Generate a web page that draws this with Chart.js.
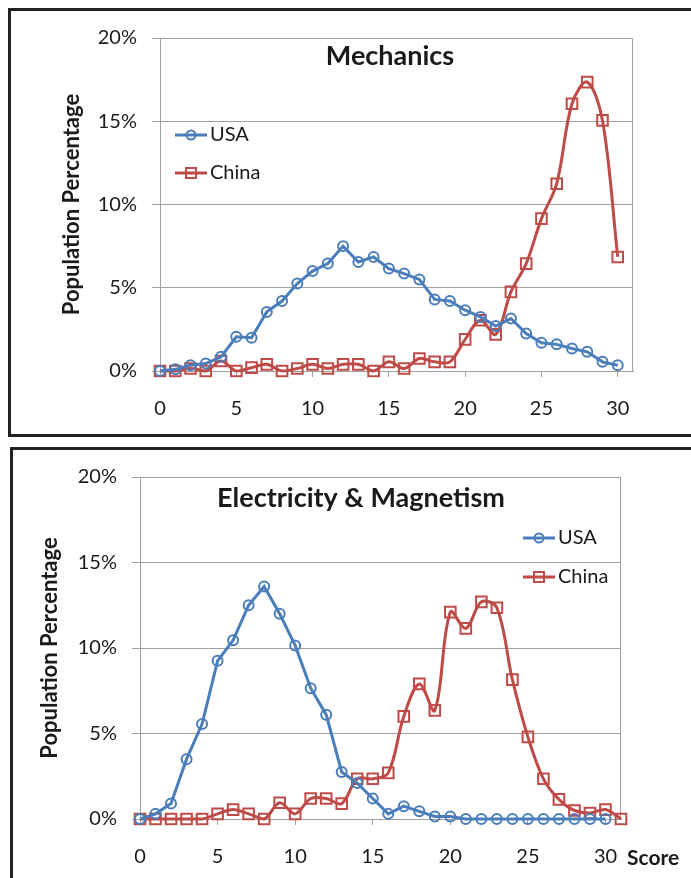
<!DOCTYPE html>
<html>
<head>
<meta charset="utf-8">
<script src="https://cdn.jsdelivr.net/npm/chart.js@4.4.1/dist/chart.umd.min.js"></script>
<style>
  body { margin: 0; background: #fff; width: 691px; height: 878px; overflow: hidden; position: relative; }
  .panel { position: absolute; border: 3px solid #222; box-sizing: border-box; }
  #p1 { left: 8px; top: 8px; width: 720px; height: 429px; }
  #p2 { left: 10px; top: 447px; width: 720px; height: 460px; }
  canvas { position: absolute; }
  #mech { left: 11px; top: 11px; }
  #em { left: 13px; top: 450px; }
</style>
</head>
<body>
<div class="panel" id="p1"></div>
<div class="panel" id="p2"></div>
<canvas id="mech" width="680" height="423"></canvas>
<canvas id="em" width="678" height="428"></canvas>
<script>
// scores on the x axis
const mechScores = [0,1,2,3,4,5,6,7,8,9,10,11,12,13,14,15,16,17,18,19,20,21,22,23,24,25,26,27,28,29,30];
const emScores = [0,1,2,3,4,5,6,7,8,9,10,11,12,13,14,15,16,17,18,19,20,21,22,23,24,25,26,27,28,29,30,31];

// population percentage per score
const mechUSA = [0,0.1,0.35,0.45,0.85,2.05,2.0,3.55,4.2,5.25,6.0,6.45,7.5,6.55,6.85,6.15,5.85,5.5,4.3,4.2,3.65,3.25,2.7,3.15,2.25,1.7,1.6,1.35,1.15,0.55,0.35];
const mechChina = [0,0,0.15,0,0.6,0,0.2,0.4,0,0.15,0.4,0.15,0.4,0.4,0,0.55,0.15,0.75,0.55,0.55,1.9,3.05,2.2,4.75,6.45,9.15,11.25,16.05,17.35,15.05,6.85];
const emUSA = [0,0.3,0.9,3.5,5.55,9.25,10.45,12.5,13.6,12.0,10.15,7.65,6.1,2.75,2.1,1.2,0.3,0.75,0.45,0.15,0.15,0,0,0,0,0,0,0,0,0,0];
const emChina = [0,0,0,0,0,0.3,0.55,0.3,0,0.95,0.3,1.2,1.2,0.9,2.35,2.35,2.7,6.0,7.9,6.35,12.1,11.15,12.7,12.35,8.15,4.8,2.35,1.15,0.5,0.35,0.55,0];

const xTicks = [0,5,10,15,20,25,30];
const yTicks = [0,5,10,15,20];

const BLUE = "#4a7ebb";
const RED = "#be4b48";
const TEXT = "#1a1a1a";
const GRID = "#a0a0a0";

Chart.defaults.font.family = "Lato, 'Open Sans', sans-serif";
Chart.defaults.color = TEXT;

function drawMarker(ctx, style, x, y, color) {
  ctx.strokeStyle = color;
  ctx.lineWidth = 2;
  ctx.beginPath();
  if (style === "circle") ctx.arc(x, y, 4.5, 0, Math.PI * 2);
  else ctx.rect(x - 5, y - 5, 10, 10);
  ctx.stroke();
}

const decor = {
  id: "decor",
  beforeDatasetsDraw(chart, args, o) {
    const { ctx, chartArea: a } = chart;
    ctx.save();
    ctx.strokeStyle = GRID;
    ctx.lineWidth = 1;
    ctx.beginPath();
    ctx.moveTo(a.right - 0.5, a.top);
    ctx.lineTo(a.right - 0.5, a.bottom);
    ctx.stroke();
    ctx.restore();
  },
  afterDraw(chart, args, o) {
    const ctx = chart.ctx;
    ctx.save();
    ctx.fillStyle = TEXT;
    ctx.textBaseline = "middle";
    ctx.font = "bold 27px Lato, sans-serif";
    ctx.textAlign = "center";
    ctx.fillText(o.title, o.titleX, o.titleY);

    // legend
    ctx.font = "20px Lato, sans-serif";
    ctx.textAlign = "left";
    chart.data.datasets.forEach((ds, i) => {
      const y = o.legendY[i];
      ctx.strokeStyle = ds.borderColor;
      ctx.lineWidth = 3;
      ctx.beginPath();
      ctx.moveTo(o.legendX, y);
      ctx.lineTo(o.legendX + 32, y);
      ctx.stroke();
      drawMarker(ctx, ds.pointStyle, o.legendX + 16, y, ds.borderColor);
      ctx.fillStyle = TEXT;
      ctx.fillText(ds.label, o.legendX + 35, y);
    });

    if (o.xLabel) {
      ctx.font = "bold 21px Lato, sans-serif";
      ctx.fillText(o.xLabel, o.xLabelX, o.xLabelY);
    }
    ctx.restore();
  }
};

function series(label, xs, ys, color, style, tension) {
  return {
    label: label,
    data: ys.map((v, i) => ({ x: xs[i], y: v })),
    borderColor: color,
    backgroundColor: color,
    borderWidth: 3,
    pointStyle: style,
    pointRadius: style === "rect" ? 7.5 : 5,
    pointBorderWidth: 2,
    pointBackgroundColor: "rgba(255,255,255,0)",
    pointBorderColor: color,
    tension: tension,
    clip: false
  };
}

function makeChart(id, cfg) {
  return new Chart(document.getElementById(id), {
    type: "line",
    data: {
      datasets: [
        series("USA", cfg.scores, cfg.usa, BLUE, "circle", 0),
        series("China", cfg.scores, cfg.china, RED, "rect", 0.35)
      ]
    },
    plugins: [decor],
    options: {
      responsive: false,
      animation: false,
      layout: { autoPadding: false, padding: { left: 0, top: cfg.padTop, right: cfg.padRight, bottom: 0 } },
      plugins: {
        legend: { display: false },
        tooltip: { enabled: false },
        decor: cfg.decor
      },
      scales: {
        x: {
          type: "linear",
          min: 0,
          max: 31,
          afterBuildTicks: (axis) => { axis.ticks = xTicks.map(v => ({ value: v })); },
          afterFit: (scale) => { scale.height = cfg.xHeight; },
          grid: { drawOnChartArea: false, drawTicks: true, tickLength: 6, tickColor: GRID },
          border: { color: GRID },
          ticks: { font: { size: 20 }, padding: 20, maxRotation: 0 }
        },
        y: {
          min: 0,
          max: 20,
          afterBuildTicks: (axis) => { axis.ticks = yTicks.map(v => ({ value: v })); },
          afterFit: (scale) => { scale.width = cfg.yWidth; },
          grid: { color: GRID, tickLength: 8, tickColor: GRID },
          border: { color: GRID },
          ticks: { font: { size: 20 }, padding: 15, callback: (v) => v + "%" },
          title: {
            display: true,
            text: "Population Percentage",
            font: { size: 22, weight: "bold" },
            padding: { top: cfg.yTitlePad, bottom: 0 }
          }
        }
      }
    }
  });
}

makeChart("mech", {
  scores: mechScores, usa: mechUSA, china: mechChina,
  padTop: 18, padRight: 58, xHeight: 63, yWidth: 149, yTitlePad: 48,
  decor: { title: "Mechanics", titleX: 379, titleY: 45, legendX: 164, legendY: [124, 162] }
});

makeChart("em", {
  scores: emScores, usa: emUSA, china: emChina,
  padTop: 23, padRight: 70, xHeight: 59, yWidth: 127, yTitlePad: 24,
  decor: { title: "Electricity & Magnetism", titleX: 348, titleY: 48, legendX: 510, legendY: [88, 127],
           xLabel: "Score", xLabelX: 614, xLabelY: 408 }
});
</script>
</body>
</html>
